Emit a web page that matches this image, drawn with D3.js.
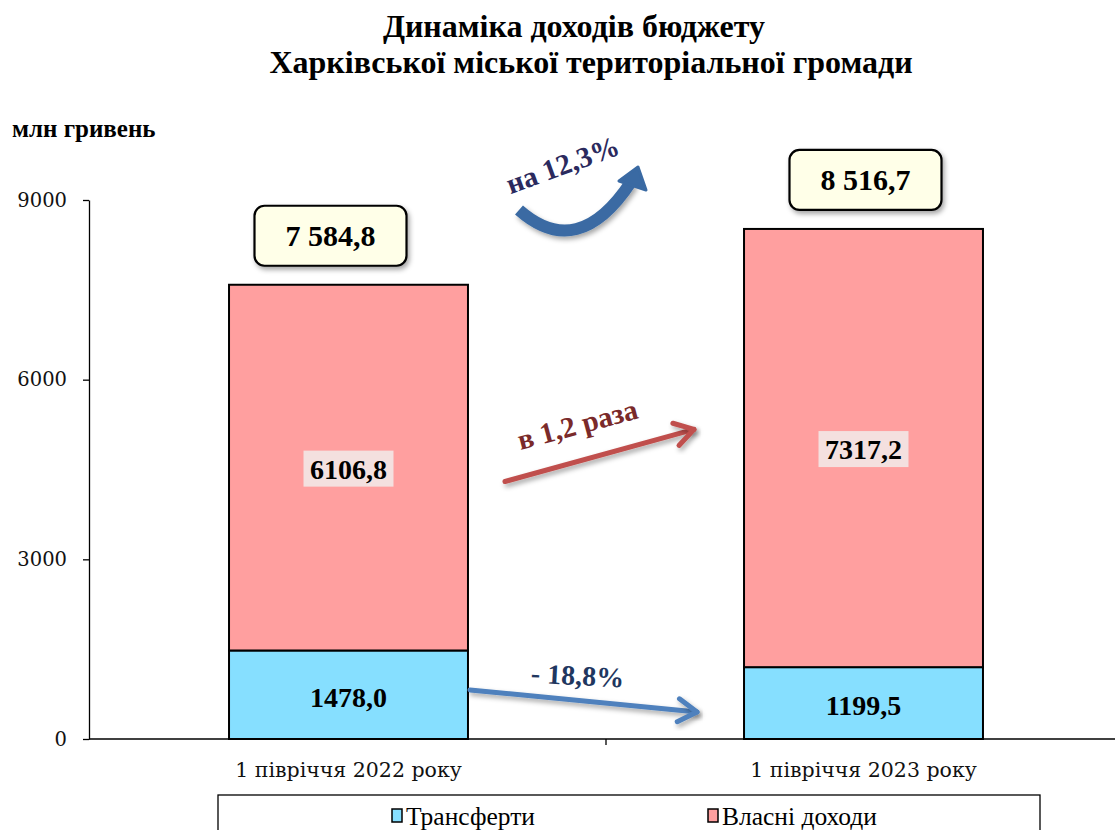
<!DOCTYPE html>
<html>
<head>
<meta charset="utf-8">
<script src="https://cdn.jsdelivr.net/npm/d3@7"></script>
<style>
  body { margin: 0; background: #fff; }
  svg { display: block; }
</style>
</head>
<body>
<svg id="chart"></svg>
<script>
var width = 1115;
var height = 830;

// data
var categories = ["1 півріччя 2022 року", "1 півріччя 2023 року"];
var transfers = [1478.0, 1199.5];
var ownIncome = [6106.8, 7317.2];
var totals = [7584.8, 8516.7];
var totalLabels = ["7 584,8", "8 516,7"];
var transferLabels = ["1478,0", "1199,5"];
var ownLabels = ["6106,8", "7317,2"];
var yTicks = [0, 3000, 6000, 9000];
var seriesNames = ["Трансферти", "Власні доходи"];
var seriesColors = ["#86DFFF", "#FF9F9F"];

var serifFont = "Liberation Serif";
var tickFont = "DejaVu Serif";

var svg = d3.select("#chart")
    .attr("width", width)
    .attr("height", height);

var defs = svg.append("defs");
var shadow = defs.append("filter").attr("id", "shadow")
    .attr("x", "-20%").attr("y", "-20%").attr("width", "150%").attr("height", "160%");
shadow.append("feDropShadow")
    .attr("dx", 2).attr("dy", 3).attr("stdDeviation", 2.5)
    .attr("flood-color", "#000").attr("flood-opacity", 0.35);

var xScale = d3.scaleBand()
    .domain(categories)
    .range([91, 1121])
    .padding(0);

var yScale = d3.scaleLinear()
    .domain([0, 9000])
    .range([739, 200]);

var barW = xScale.bandwidth() * 0.464;
function barX(i) { return xScale(categories[i]) + (xScale.bandwidth() - barW) / 2; }
function barC(i) { return xScale(categories[i]) + xScale.bandwidth() / 2; }

// TITLE
svg.append("text")
    .attr("x", 574).attr("y", 37)
    .attr("text-anchor", "middle")
    .style("font-family", serifFont).style("font-weight", "bold").style("font-size", "32px")
    .text("Динаміка доходів бюджету");
svg.append("text")
    .attr("x", 591).attr("y", 73)
    .attr("text-anchor", "middle")
    .style("font-family", serifFont).style("font-weight", "bold").style("font-size", "32px")
    .text("Харківської міської територіальної громади");

// units
svg.append("text")
    .attr("x", 12).attr("y", 137)
    .style("font-family", serifFont).style("font-weight", "bold").style("font-size", "25px")
    .text("млн гривень");

// axes
var yAxis = d3.axisLeft(yScale).tickValues(yTicks).tickFormat(d3.format("d"))
    .tickSize(6).tickSizeOuter(0);
var gy = svg.append("g").attr("transform", "translate(89,0)").call(yAxis);
gy.select(".domain").attr("stroke", "#000").attr("stroke-width", 1.3);
gy.selectAll(".tick line").attr("stroke", "#000").attr("stroke-width", 1.3);
gy.selectAll(".tick text")
    .attr("x", -22)
    .style("font-family", tickFont).style("font-size", "19.5px").attr("fill", "#111");

svg.append("line")
    .attr("x1", 89).attr("x2", width)
    .attr("y1", yScale(0)).attr("y2", yScale(0))
    .attr("stroke", "#000").attr("stroke-width", 1.3);

// category boundary ticks
svg.selectAll(".xtick")
    .data([xScale(categories[1])])
    .enter().append("line")
    .attr("x1", d => d).attr("x2", d => d)
    .attr("y1", yScale(0)).attr("y2", yScale(0) + 6)
    .attr("stroke", "#000").attr("stroke-width", 1.3);

svg.selectAll(".xlab")
    .data(categories)
    .enter().append("text")
    .attr("x", (d, i) => barC(i))
    .attr("y", 777)
    .attr("text-anchor", "middle")
    .style("font-family", tickFont).style("font-size", "20.5px").attr("fill", "#111")
    .text(d => d);

// bars: transfers
svg.selectAll(".bar-t")
    .data(transfers)
    .enter().append("rect")
    .attr("x", (d, i) => barX(i))
    .attr("width", barW)
    .attr("y", d => yScale(d))
    .attr("height", d => yScale(0) - yScale(d))
    .attr("fill", seriesColors[0])
    .attr("stroke", "#000").attr("stroke-width", 2);

// bars: own income
svg.selectAll(".bar-o")
    .data(ownIncome)
    .enter().append("rect")
    .attr("x", (d, i) => barX(i))
    .attr("width", barW)
    .attr("y", (d, i) => yScale(d + transfers[i]))
    .attr("height", (d, i) => yScale(transfers[i]) - yScale(d + transfers[i]))
    .attr("fill", seriesColors[1])
    .attr("stroke", "#000").attr("stroke-width", 2);

// labels inside bars
svg.selectAll(".lab-t")
    .data(transfers)
    .enter().append("text")
    .attr("x", (d, i) => barC(i))
    .attr("y", d => (yScale(0) + yScale(d)) / 2 + 12)
    .attr("text-anchor", "middle")
    .style("font-family", serifFont).style("font-weight", "bold").style("font-size", "28px")
    .text((d, i) => transferLabels[i]);

var ownG = svg.selectAll(".lab-o")
    .data(ownIncome)
    .enter().append("g")
    .attr("transform", (d, i) => "translate(" + barC(i) + "," + ((yScale(transfers[i]) + yScale(d + transfers[i])) / 2 + 1) + ")");
ownG.append("rect")
    .attr("x", -45).attr("y", -18).attr("width", 90).attr("height", 36)
    .attr("fill", "#F4E0DF");
ownG.append("text")
    .attr("y", 10)
    .attr("text-anchor", "middle")
    .style("font-family", serifFont).style("font-weight", "bold").style("font-size", "28px")
    .text((d, i) => ownLabels[i]);

// total boxes
var totG = svg.selectAll(".tot")
    .data(totals)
    .enter().append("g")
    .attr("transform", (d, i) => "translate(" + (barC(i) - (i === 0 ? 18 : -2)) + "," + (yScale(d) - 49) + ")");
totG.append("rect")
    .attr("x", -76).attr("y", -30).attr("width", 152).attr("height", 60)
    .attr("rx", 10)
    .attr("fill", "#FFFFE8")
    .attr("stroke", "#000").attr("stroke-width", 2.2)
    .attr("filter", "url(#shadow)");
totG.append("text")
    .attr("y", 10)
    .attr("text-anchor", "middle")
    .style("font-family", serifFont).style("font-weight", "bold").style("font-size", "30px")
    .text((d, i) => totalLabels[i]);

// arrowhead helper
function arrowHead(x, y, angle, color, size) {
    var a = angle * Math.PI / 180;
    var p1 = [x - size * Math.cos(a - 0.55), y - size * Math.sin(a - 0.55)];
    var p2 = [x - size * Math.cos(a + 0.55), y - size * Math.sin(a + 0.55)];
    svg.append("path")
        .attr("d", "M" + p1 + "L" + x + "," + y + "L" + p2)
        .attr("fill", "none")
        .attr("stroke", color).attr("stroke-width", 5)
        .attr("stroke-linecap", "round").attr("stroke-linejoin", "round")
        .attr("filter", "url(#shadow)");
}

// red arrow (own income growth)
var rx1 = barX(0) + barW + 37, ry1 = yScale(4300);
var rx2 = barX(1) - 50, ry2 = yScale(5170);
svg.append("line")
    .attr("x1", rx1).attr("y1", ry1).attr("x2", rx2).attr("y2", ry2)
    .attr("stroke", "#C0504D").attr("stroke-width", 5).attr("stroke-linecap", "round")
    .attr("filter", "url(#shadow)");
arrowHead(rx2, ry2, Math.atan2(ry2 - ry1, rx2 - rx1) * 180 / Math.PI, "#C0504D", 22);
svg.append("text")
    .attr("transform", "translate(580,434) rotate(-15)")
    .attr("text-anchor", "middle")
    .style("font-family", serifFont).style("font-weight", "bold").style("font-size", "29px")
    .attr("fill", "#7A2A2A")
    .text("в 1,2 раза");

// blue arrow (transfers decrease)
var bx1 = barX(0) + barW + 2, by1 = yScale(820);
var bx2 = barX(1) - 47, by2 = yScale(450);
svg.append("line")
    .attr("x1", bx1).attr("y1", by1).attr("x2", bx2).attr("y2", by2)
    .attr("stroke", "#4F81BD").attr("stroke-width", 5).attr("stroke-linecap", "round")
    .attr("filter", "url(#shadow)");
arrowHead(bx2, by2, Math.atan2(by2 - by1, bx2 - bx1) * 180 / Math.PI, "#4F81BD", 22);
svg.append("text")
    .attr("transform", "translate(577,685) rotate(3)")
    .attr("text-anchor", "middle")
    .style("font-family", serifFont).style("font-weight", "bold").style("font-size", "28px")
    .attr("fill", "#1F3760")
    .text("- 18,8%");

// curved arrow (total growth)
svg.append("path")
    .attr("d", "M519,210 Q578,262 631,182")
    .attr("fill", "none")
    .attr("stroke", "#3A6AA3").attr("stroke-width", 12)
    .attr("filter", "url(#shadow)");
svg.append("path")
    .attr("d", "M619,181 L638,167 L646,190 Z")
    .attr("fill", "#3A6AA3").attr("stroke", "#3A6AA3").attr("stroke-width", 3)
    .attr("stroke-linejoin", "round");
svg.append("text")
    .attr("transform", "translate(566,174) rotate(-20)")
    .attr("text-anchor", "middle")
    .style("font-family", serifFont).style("font-weight", "bold").style("font-size", "29px")
    .attr("fill", "#2B2A5E")
    .text("на 12,3%");

// legend
svg.append("rect")
    .attr("x", 218).attr("y", 795).attr("width", 822).attr("height", 50)
    .attr("fill", "#fff").attr("stroke", "#000").attr("stroke-width", 1.3);
var legX = [392, 708];
var leg = svg.selectAll(".leg")
    .data(seriesNames)
    .enter().append("g")
    .attr("transform", (d, i) => "translate(" + legX[i] + ",818)");
leg.append("rect")
    .attr("x", 0).attr("y", -9).attr("width", 10).attr("height", 13)
    .attr("fill", (d, i) => seriesColors[i])
    .attr("stroke", "#000").attr("stroke-width", 1.5);
leg.append("text")
    .attr("x", 14).attr("y", 7)
    .style("font-family", serifFont).style("font-size", "25.5px")
    .text(d => d);
</script>
</body>
</html>
